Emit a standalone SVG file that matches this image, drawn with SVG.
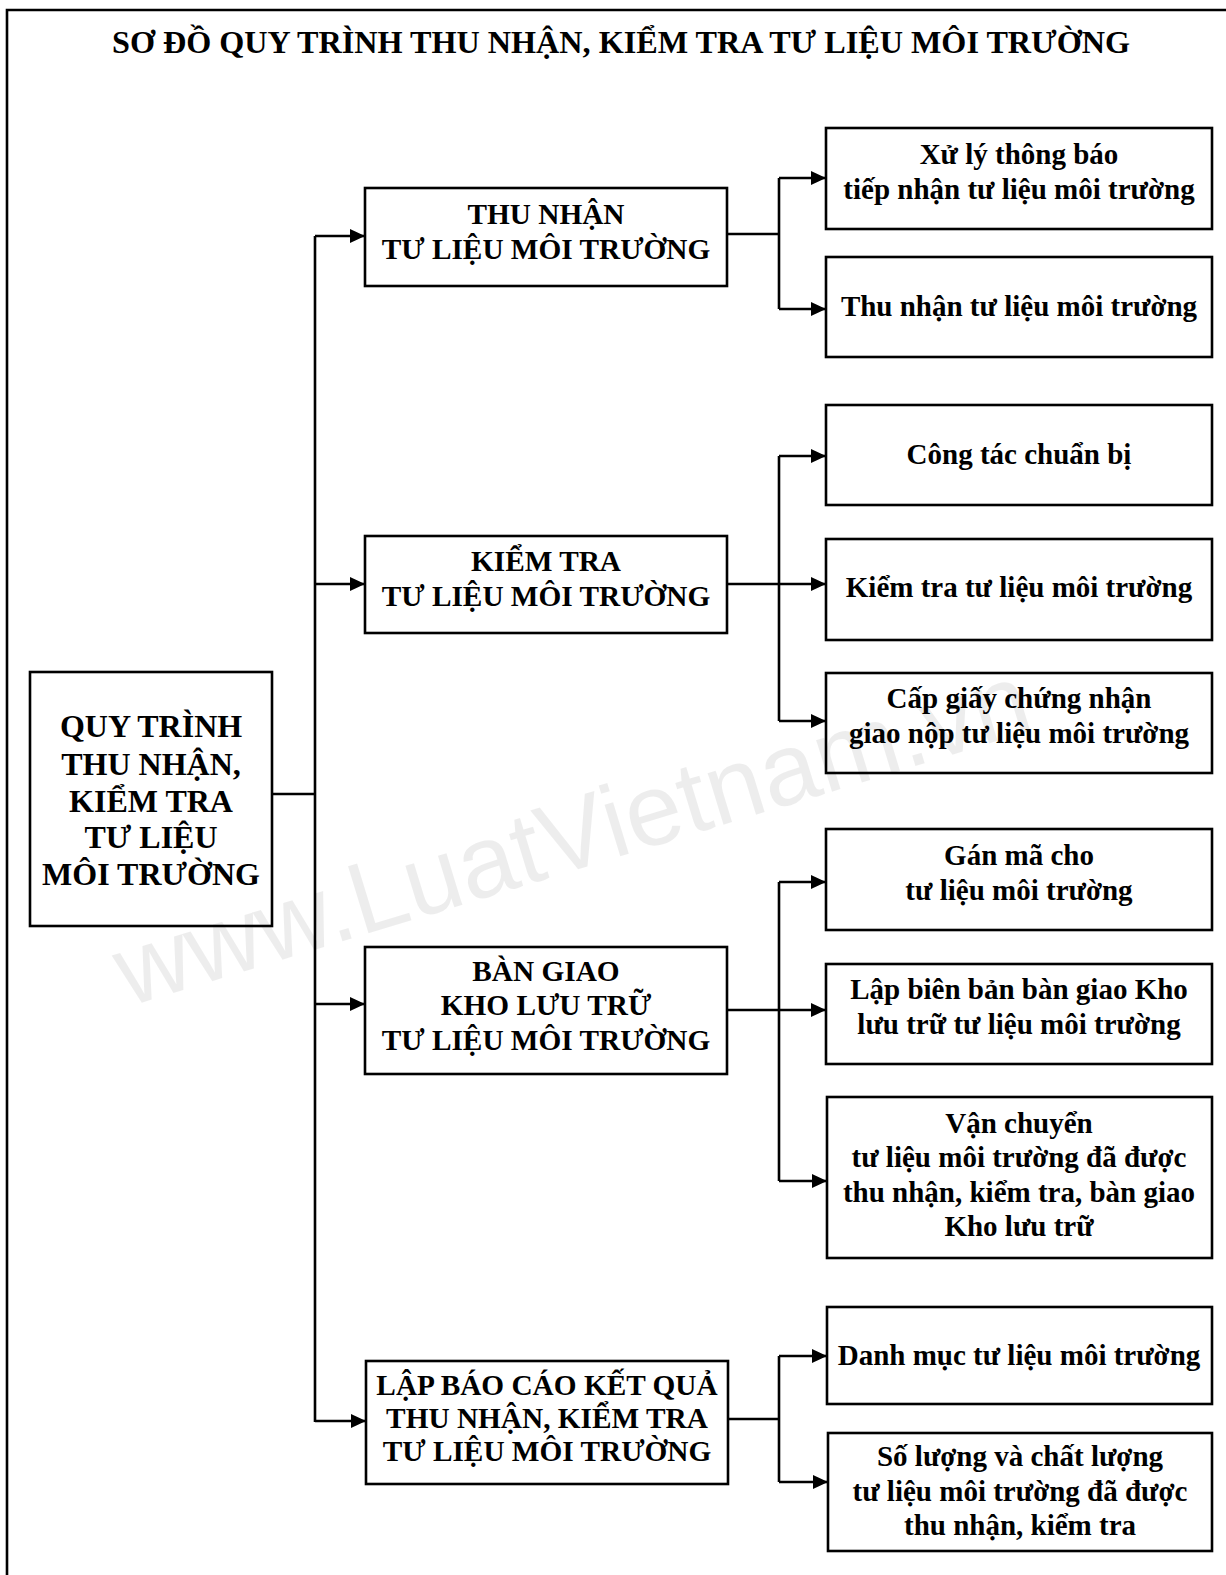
<svg xmlns="http://www.w3.org/2000/svg" width="1226" height="1575" viewBox="0 0 1226 1575">
<style>
.box{fill:none;stroke:#000;stroke-width:2.6}
.t{font-family:"Liberation Serif","Times New Roman",serif;font-weight:bold;fill:#000;text-anchor:middle}
.root{font-size:32px}
.l1{font-size:29.3px}
.l2{font-size:29px}
.title{font-size:32px}
.wm{font-family:"Liberation Sans",Arial,sans-serif;font-size:102px;fill:#000;fill-opacity:0.07;text-anchor:middle}
.c{fill:none;stroke:#000;stroke-width:2.6}
.ca{fill:none;stroke:#000;stroke-width:2.6;marker-end:url(#arr)}
</style>
<defs>
<marker id="arr" markerUnits="userSpaceOnUse" markerWidth="16" markerHeight="14" refX="15" refY="7" orient="auto">
<path d="M0,0 L15,7 L0,14 z" fill="#000"/>
</marker>
</defs>
<rect x="0" y="0" width="1226" height="1575" fill="#fff"/>
<text class="wm" transform="translate(582,868) rotate(-17)">www.LuatVietnam.vn</text>
<g id="frame">
<path class="c" d="M7,1575 V10 H1226"/>
</g>
<text class="t title" x="621" y="53" textLength="1018" lengthAdjust="spacingAndGlyphs">SƠ ĐỒ QUY TRÌNH THU NHẬN, KIỂM TRA TƯ LIỆU MÔI TRƯỜNG</text>

<g id="connectors">
<path class="c" d="M272,794 H315"/>
<path class="c" d="M315,236 V1422"/>
<path class="ca" d="M315,236 H365"/>
<path class="ca" d="M315,584 H365"/>
<path class="ca" d="M315,1004 H365"/>
<path class="ca" d="M315,1421 H366"/>

<path class="c" d="M727,234 H779"/>
<path class="c" d="M779,178 V309"/>
<path class="ca" d="M779,178 H826"/>
<path class="ca" d="M779,309 H826"/>

<path class="ca" d="M727,584 H826"/>
<path class="c" d="M779,456 V721"/>
<path class="ca" d="M779,456 H826"/>
<path class="ca" d="M779,721 H826"/>

<path class="ca" d="M727,1010 H826"/>
<path class="c" d="M779,882 V1181"/>
<path class="ca" d="M779,882 H826"/>
<path class="ca" d="M779,1181 H827"/>

<path class="c" d="M728,1419 H779"/>
<path class="c" d="M779,1356 V1482"/>
<path class="ca" d="M779,1356 H827"/>
<path class="ca" d="M779,1482 H828"/>
</g>

<g id="root">
<rect class="box" x="30" y="672" width="242" height="254"/>
<text class="t root" x="151" y="737">QUY TRÌNH</text>
<text class="t root" x="151" y="775">THU NHẬN,</text>
<text class="t root" x="151" y="812">KIỂM TRA</text>
<text class="t root" x="151" y="848">TƯ LIỆU</text>
<text class="t root" x="151" y="885">MÔI TRƯỜNG</text>
</g>

<g id="thu-nhan">
<rect class="box" x="365" y="188" width="362" height="98"/>
<text class="t l1" x="546" y="224">THU NHẬN</text>
<text class="t l1" x="546" y="259">TƯ LIỆU MÔI TRƯỜNG</text>
</g>
<g id="kiem-tra">
<rect class="box" x="365" y="536" width="362" height="97"/>
<text class="t l1" x="546" y="571">KIỂM TRA</text>
<text class="t l1" x="546" y="606">TƯ LIỆU MÔI TRƯỜNG</text>
</g>
<g id="ban-giao">
<rect class="box" x="365" y="947" width="362" height="127"/>
<text class="t l1" x="546" y="981">BÀN GIAO</text>
<text class="t l1" x="546" y="1015">KHO LƯU TRỮ</text>
<text class="t l1" x="546" y="1050">TƯ LIỆU MÔI TRƯỜNG</text>
</g>
<g id="lap-bao-cao">
<rect class="box" x="366" y="1361" width="362" height="123"/>
<text class="t l1" x="547" y="1395">LẬP BÁO CÁO KẾT QUẢ</text>
<text class="t l1" x="547" y="1428">THU NHẬN, KIỂM TRA</text>
<text class="t l1" x="547" y="1461">TƯ LIỆU MÔI TRƯỜNG</text>
</g>

<g id="xu-ly">
<rect class="box" x="826" y="128" width="386" height="101"/>
<text class="t l2" x="1019" y="164">Xử lý thông báo</text>
<text class="t l2" x="1019" y="199">tiếp nhận tư liệu môi trường</text>
</g>
<g id="thu-nhan-tl">
<rect class="box" x="826" y="257" width="386" height="100"/>
<text class="t l2" x="1019" y="316">Thu nhận tư liệu môi trường</text>
</g>
<g id="cong-tac">
<rect class="box" x="826" y="405" width="386" height="100"/>
<text class="t l2" x="1019" y="464">Công tác chuẩn bị</text>
</g>
<g id="kiem-tra-tl">
<rect class="box" x="826" y="539" width="386" height="101"/>
<text class="t l2" x="1019" y="597">Kiểm tra tư liệu môi trường</text>
</g>
<g id="cap-giay">
<rect class="box" x="826" y="673" width="386" height="100"/>
<text class="t l2" x="1019" y="708">Cấp giấy chứng nhận</text>
<text class="t l2" x="1019" y="743">giao nộp tư liệu môi trường</text>
</g>
<g id="gan-ma">
<rect class="box" x="826" y="829" width="386" height="101"/>
<text class="t l2" x="1019" y="865">Gán mã cho</text>
<text class="t l2" x="1019" y="900">tư liệu môi trường</text>
</g>
<g id="lap-bien-ban">
<rect class="box" x="826" y="964" width="386" height="100"/>
<text class="t l2" x="1019" y="999">Lập biên bản bàn giao Kho</text>
<text class="t l2" x="1019" y="1034">lưu trữ tư liệu môi trường</text>
</g>
<g id="van-chuyen">
<rect class="box" x="827" y="1097" width="385" height="161"/>
<text class="t l2" x="1019" y="1133">Vận chuyển</text>
<text class="t l2" x="1019" y="1167">tư liệu môi trường đã được</text>
<text class="t l2" x="1019" y="1202">thu nhận, kiểm tra, bàn giao</text>
<text class="t l2" x="1019" y="1236">Kho lưu trữ</text>
</g>
<g id="danh-muc">
<rect class="box" x="827" y="1307" width="385" height="97"/>
<text class="t l2" x="1019" y="1365">Danh mục tư liệu môi trường</text>
</g>
<g id="so-luong">
<rect class="box" x="828" y="1433" width="384" height="118"/>
<text class="t l2" x="1020" y="1466">Số lượng và chất lượng</text>
<text class="t l2" x="1020" y="1501">tư liệu môi trường đã được</text>
<text class="t l2" x="1020" y="1535">thu nhận, kiểm tra</text>
</g>
</svg>
